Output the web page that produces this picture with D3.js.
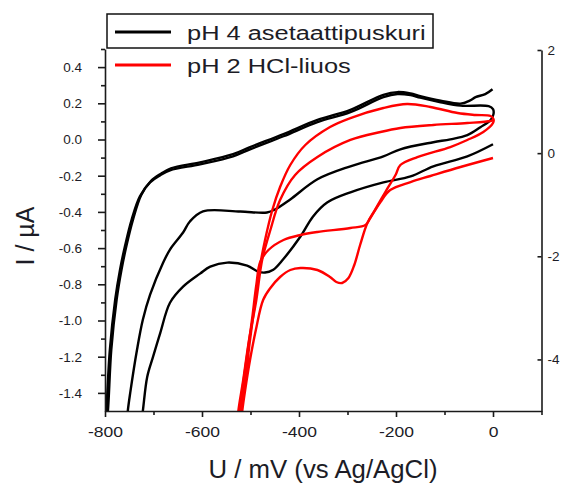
<!DOCTYPE html>
<html>
<head>
<meta charset="utf-8">
<title>CV pH 4 / pH 2</title>
<script src="https://d3js.org/d3.v7.min.js"></script>
<style>
    body { margin: 0; background: #fff; }
    text { font-family: "Liberation Sans", Arial, sans-serif; fill: #1c1c26; }
    .axis path, .axis line { stroke: #1a1a1a; stroke-width: 1.6; }
    .curve { fill: none; stroke-width: 2.4; stroke-linejoin: round; }
</style>
</head>
<body>
<script>
// ---- data (U in mV vs Ag/AgCl, I in uA) ----
// pH 4 acetate buffer, left axis
var ph4Sweep1 = [[0,-0.026],[-53,-0.093],[-123,-0.148],[-170,-0.204],[-226,-0.237],[-294,-0.292],[-342,-0.348],
    [-371,-0.425],[-397,-0.536],[-433,-0.663],[-453,-0.719],[-470,-0.735],[-484,-0.730],[-507,-0.697],[-548,-0.680],
    [-583,-0.702],[-604,-0.741],[-639,-0.813],[-666,-0.902],[-686,-1.068],[-701,-1.201],[-713,-1.312],[-722,-1.50],[-728,-1.62]];
var ph4Sweep2 = [[-799,-1.62],[-797,-1.5],[-790,-1.162],[-779,-0.885],[-769,-0.719],[-759,-0.591],[-745,-0.442],
    [-728,-0.314],[-707,-0.237],[-686,-0.198],[-666,-0.170],[-604,-0.137],[-536,-0.093],[-501,-0.054],[-432,0.018],
    [-362,0.096],[-294,0.151],[-226,0.234],[-197,0.251],[-170,0.245],[-150,0.231],[-108,0.206],[-67,0.187],[-9,0.184],
    [0,0.168],[1,0.14],
    [-5,0.107],[-26,0.068],[-53,0.024],[-88,0.001],[-123,-0.015],[-191,-0.054],[-226,-0.093],[-294,-0.148],
    [-362,-0.220],[-418,-0.331],[-449,-0.386],[-466,-0.403],[-521,-0.398],[-598,-0.397],[-625,-0.453],[-639,-0.514],
    [-666,-0.608],[-680,-0.680],[-707,-0.857],[-722,-0.996],[-734,-1.162],[-748,-1.400],[-753,-1.5],[-756,-1.6]];
var ph4Sweep3 = [[-798,-1.6],[-794,-1.5],[-787,-1.16],[-776,-0.885],[-766,-0.72],[-756,-0.59],[-742,-0.44],
    [-725,-0.305],[-705,-0.228],[-684,-0.188],[-664,-0.159],[-604,-0.126],[-536,-0.081],[-501,-0.042],[-432,0.030],
    [-362,0.108],[-294,0.164],[-226,0.247],[-197,0.262],[-170,0.254],[-150,0.240],[-108,0.215],[-67,0.198],
    [-48,0.215],[-36,0.234],[-16,0.251],[-1,0.278]];

// pH 2 HCl, right axis
var ph2Sweep1 = [[0,-0.094],[-67,-0.269],[-129,-0.443],[-170,-0.560],[-212,-0.715],[-232,-0.947],[-253,-1.258],
    [-263,-1.393],[-294,-1.452],[-362,-1.529],[-397,-1.587],[-432,-1.684],[-463,-1.878],[-480,-2.111],[-488,-2.557],
    [-497,-3.236],[-507,-3.914],[-517,-4.593],[-523,-5.0],[-526,-5.3]];
var ph2Sweep2 = [[-524,-5.3],[-521,-5.0],[-511,-4.399],[-501,-3.623],[-490,-2.848],[-480,-2.169],[-470,-1.684],
    [-455,-1.103],[-439,-0.657],[-418,-0.230],[-387,0.158],[-336,0.507],[-294,0.681],[-226,0.875],[-177,0.953],
    [-129,0.895],[-73,0.778],[-36,0.740],[-5,0.720],[1,0.66],
    [0,0.584],[-20,0.410],[-53,0.255],[-88,0.119],[-156,-0.075],[-191,-0.230],[-201,-0.424],[-222,-0.754],
    [-243,-1.094],[-259,-1.355],[-274,-1.781],[-286,-2.169],[-298,-2.421],[-311,-2.518],[-323,-2.499],[-336,-2.402],
    [-362,-2.266],[-397,-2.227],[-418,-2.266],[-439,-2.402],[-459,-2.615],[-474,-2.848],[-489,-3.430],[-501,-4.011],
    [-511,-4.593],[-517,-5.0],[-520,-5.3]];
var ph2Sweep3 = [[-527,-5.3],[-525,-5.0],[-515,-4.399],[-503,-3.623],[-488,-2.848],[-476,-2.072],[-459,-1.490],
    [-439,-0.909],[-408,-0.424],[-362,-0.075],[-294,0.255],[-232,0.410],[-191,0.487],[-123,0.546],[-53,0.584],
    [-5,0.623],[0,0.64]];

var xTicks = [-800, -600, -400, -200, 0];
var xMinor = [-700, -500, -300, -100, 100];
var leftTicks = [-1.4, -1.2, -1.0, -0.8, -0.6, -0.4, -0.2, 0.0, 0.2, 0.4];
var leftMinor = [-1.3, -1.1, -0.9, -0.7, -0.5, -0.3, -0.1, 0.1, 0.3, 0.5];
var rightTicks = [-4, -2, 0, 2];
var legendNames = ["pH 4 asetaattipuskuri", "pH 2 HCl-liuos"];
var colors = ["#000000", "#ff0000"];

// ---- layout ----
var W = 561, H = 484;
var svg = d3.select('body').append('svg').attr('width', W).attr('height', H);

var x = d3.scaleLinear().domain([-800, 100]).range([105, 541.5]);
var yL = d3.scaleLinear().domain([-1.5, 0.5]).range([411, 49]);
var yR = d3.scaleLinear().domain([-5, 2]).range([411, 50]);

// some texts in the source picture are stretched sideways
function widen(sel, k) {
    sel.each(function () {
        var w = this.getComputedTextLength();
        d3.select(this).attr('textLength', w * k).attr('lengthAdjust', 'spacingAndGlyphs');
    });
}

svg.append('clipPath').attr('id', 'plot')
    .append('rect').attr('x', 105).attr('y', 49).attr('width', 436.5).attr('height', 362);

var lineL = d3.line().curve(d3.curveCatmullRom.alpha(0.5))
    .x(function (d) { return x(d[0]); }).y(function (d) { return yL(d[1]); });
var lineR = d3.line().curve(d3.curveCatmullRom.alpha(0.5))
    .x(function (d) { return x(d[0]); }).y(function (d) { return yR(d[1]); });

var curves = svg.append('g').attr('clip-path', 'url(#plot)');
[ph4Sweep1, ph4Sweep2, ph4Sweep3].forEach(function (s) {
    curves.append('path').attr('class', 'curve').attr('stroke', colors[0]).attr('d', lineL(s));
});
[ph2Sweep1, ph2Sweep2, ph2Sweep3].forEach(function (s) {
    curves.append('path').attr('class', 'curve').attr('stroke', colors[1]).attr('d', lineR(s));
});

// ---- axes ----
var bottom = svg.append('g').attr('class', 'axis').attr('transform', 'translate(0,411)')
    .call(d3.axisBottom(x).tickValues(xTicks).tickFormat(function (d) { return String(d); })
        .tickSize(6).tickSizeOuter(0).tickPadding(10));
svg.append('g').attr('class', 'axis').attr('transform', 'translate(0,411)')
    .call(d3.axisBottom(x).tickValues(xMinor).tickFormat('').tickSize(4).tickSizeOuter(0))
    .select('.domain').remove();

var left = svg.append('g').attr('class', 'axis').attr('transform', 'translate(105,0)')
    .call(d3.axisLeft(yL).tickValues(leftTicks).tickFormat(function (d) { return d.toFixed(1); })
        .tickSize(7).tickSizeOuter(0).tickPadding(16));
svg.append('g').attr('class', 'axis').attr('transform', 'translate(105,0)')
    .call(d3.axisLeft(yL).tickValues(leftMinor).tickFormat('').tickSize(4).tickSizeOuter(0))
    .select('.domain').remove();

var right = svg.append('g').attr('class', 'axis').attr('transform', 'translate(541.5,0)')
    .call(d3.axisRight(yR).tickValues(rightTicks).tickFormat(function (d) { return String(d); })
        .tickSize(-4).tickSizeOuter(0).tickPadding(6));

[bottom, left, right].forEach(function (a) {
    a.selectAll('text').style('font-family', '"Liberation Sans", Arial, sans-serif').attr('fill', '#1c1c26');
});
bottom.selectAll('text').attr('font-size', 14);
widen(bottom.selectAll('text'), 1.25);
left.selectAll('text').attr('font-size', 13.5);
right.selectAll('text').attr('font-size', 13.5);

// axis titles
svg.append('text').attr('x', 323).attr('y', 478).attr('text-anchor', 'middle')
    .attr('font-size', 25).attr('textLength', 229).attr('lengthAdjust', 'spacingAndGlyphs')
    .text('U / mV (vs Ag/AgCl)');
svg.append('text').attr('transform', 'translate(34,236) rotate(-90)').attr('text-anchor', 'middle')
    .attr('font-size', 25).text('I / \u00b5A');

// ---- legend ----
svg.append('rect').attr('x', 107).attr('y', 14).attr('width', 326).attr('height', 34)
    .attr('fill', 'none').attr('stroke', '#111').attr('stroke-width', 1.5);
var leg = svg.selectAll('.leg').data(legendNames).enter().append('g').attr('class', 'leg')
    .attr('transform', function (d, i) { return 'translate(0,' + (i * 33) + ')'; });
leg.append('line').attr('x1', 115).attr('x2', 171).attr('y1', 32).attr('y2', 32)
    .attr('stroke', function (d, i) { return colors[i]; }).attr('stroke-width', 3);
var legText = leg.append('text').attr('x', 187).attr('y', 40).attr('font-size', 20).text(function (d) { return d; });
widen(legText, 1.27);
</script>
</body>
</html>
